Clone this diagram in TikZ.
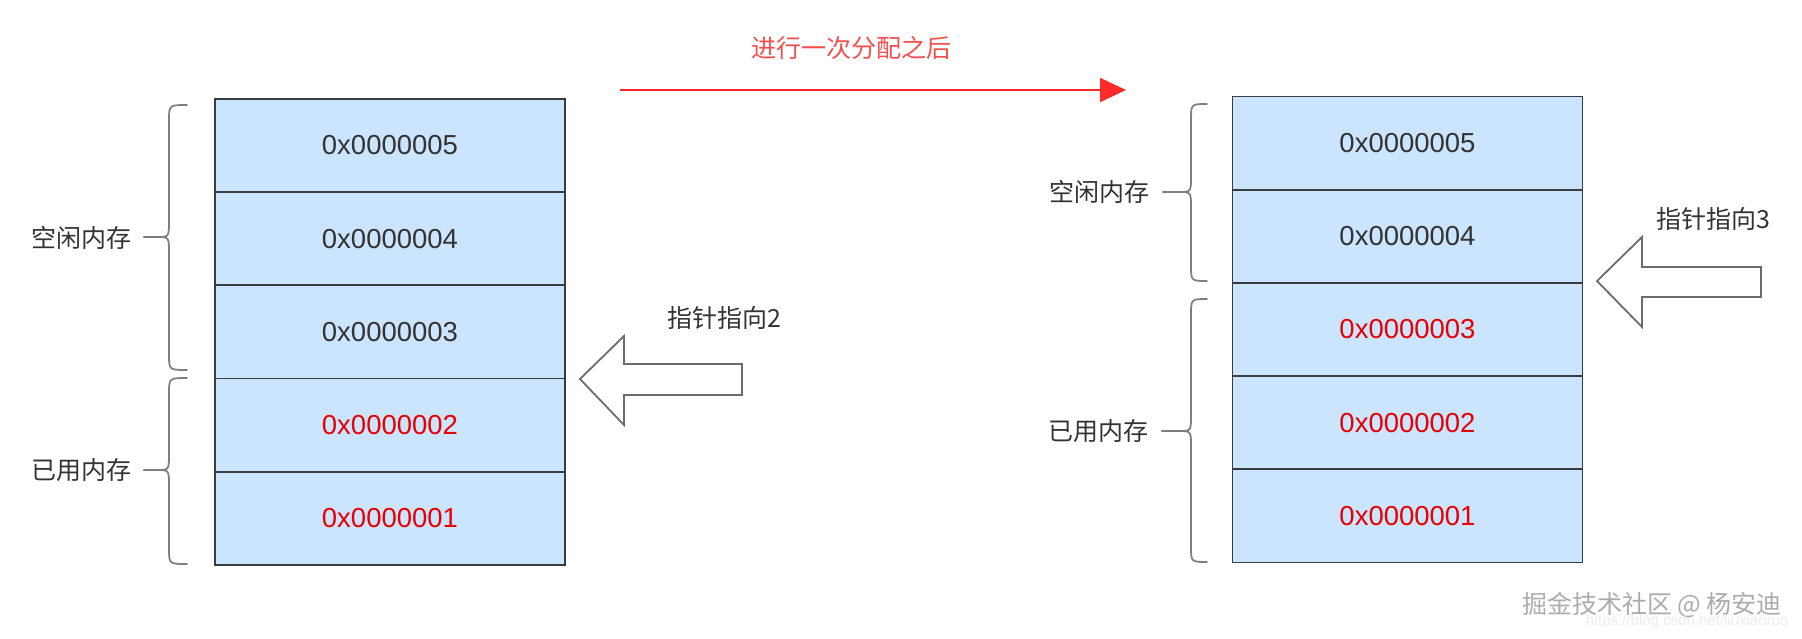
\documentclass[tikz,border=0pt]{standalone}
\usepackage{fontspec}
\setmainfont{Liberation Sans}
\newfontfamily\zhfont{Noto Sans CJK SC}
\usetikzlibrary{arrows.meta,positioning,calc}

\definecolor{cellblue}{HTML}{CCE5FF}
\definecolor{cellline}{HTML}{393C40}
\definecolor{usedred}{HTML}{E80000}
\definecolor{inkgray}{HTML}{333333}
\definecolor{bracegray}{HTML}{7F7F7F}
\definecolor{hintred}{HTML}{F5504F}
\definecolor{goline}{HTML}{FF2A2A}

% curly brace: end x, vertical x, tip x, top y, middle y, bottom y
\newcommand{\membrace}[6]{%
  \draw[bracegray, line width=1.8pt, line cap=round]
    (#1,#4) .. controls (#2,#4) .. (#2,{#4+16}) -- (#2,{#5-16})
    .. controls (#2,#5) .. ({#2-12},#5) -- (#3,#5);
  \draw[bracegray, line width=1.8pt, line cap=round]
    (#3,#5) -- ({#2-12},#5) .. controls (#2,#5) .. (#2,{#5+16})
    -- (#2,{#6-16}) .. controls (#2,#6) .. (#1,#6);}

\begin{document}
\begin{tikzpicture}[
  x=1pt, y=-1pt,
  >=Latex,
  cell/.style={draw=cellline, line width=1.8pt, fill=cellblue, minimum width=350pt, minimum height=93.2pt, inner sep=0pt, outer sep=0pt, font=\fontsize{27.5}{32}\selectfont, text=inkgray},
  used/.style={text=usedred},
  tag/.style={font=\zhfont\fontsize{25}{30}\selectfont, text=inkgray},
  pointer/.style={draw=gray!85!black, line width=1.8pt, fill=white, line join=miter}
]
\useasboundingbox (0,0) rectangle (1802,638);

% before
\node[cell] (a5) at (390,145.5) {0x0000005};
\node[cell, below=0pt of a5] (a4) {0x0000004};
\node[cell, below=0pt of a4] (a3) {0x0000003};
\node[cell, used, below=0pt of a3] (a2) {0x0000002};
\node[cell, used, below=0pt of a2] (a1) {0x0000001};
\membrace{187}{169}{144}{105}{237}{370}
\membrace{187}{169}{144}{378}{470}{564}
\node[tag] (freeA) at (81,238) {空闲内存};
\node[tag] (usedA) at (81,470) {已用内存};
\coordinate (tipA) at (580,379);
\draw[pointer] (tipA) -- ++(44,-43) -- ++(0,28) -- ++(118,0) -- ++(0,31) -- ++(-118,0) -- ++(0,30) -- cycle;
\node[tag] (ptrA) at (724,318) {指针指向2};

% allocation
\coordinate (go) at (620,90);
\coordinate (done) at (1126,90);
\draw[goline, line width=2pt, -{Triangle[length=26pt,width=24pt]}] (go) -- (done);
\node[tag, text=hintred] (title) at (851,48) {进行一次分配之后};

% after
\node[cell] (b5) at (1407.5,143) {0x0000005};
\node[cell, below=0pt of b5] (b4) {0x0000004};
\node[cell, used, below=0pt of b4] (b3) {0x0000003};
\node[cell, used, below=0pt of b3] (b2) {0x0000002};
\node[cell, used, below=0pt of b2] (b1) {0x0000001};
\membrace{1207}{1191}{1163}{104}{192}{281}
\membrace{1207}{1191}{1162}{299}{431}{562}
\node[tag] (freeB) at (1099,192) {空闲内存};
\node[tag] (usedB) at (1098,431) {已用内存};
\coordinate (tipB) at (1597,281);
\draw[pointer] (tipB) -- ++(45,-44) -- ++(0,30) -- ++(119,0) -- ++(0,30) -- ++(-119,0) -- ++(0,30) -- cycle;
\node[tag] (ptrB) at (1713,219) {指针指向3};

% watermark
\node[tag, text=gray!65] (wm) at (1652,605) {掘金技术社区 @ 杨安迪};
\node[font=\fontsize{15}{18}\selectfont, text=gray!15] (url) at (1687,622) {https://blog.csdn.net/liuxiaoruo};
\end{tikzpicture}
\end{document}
